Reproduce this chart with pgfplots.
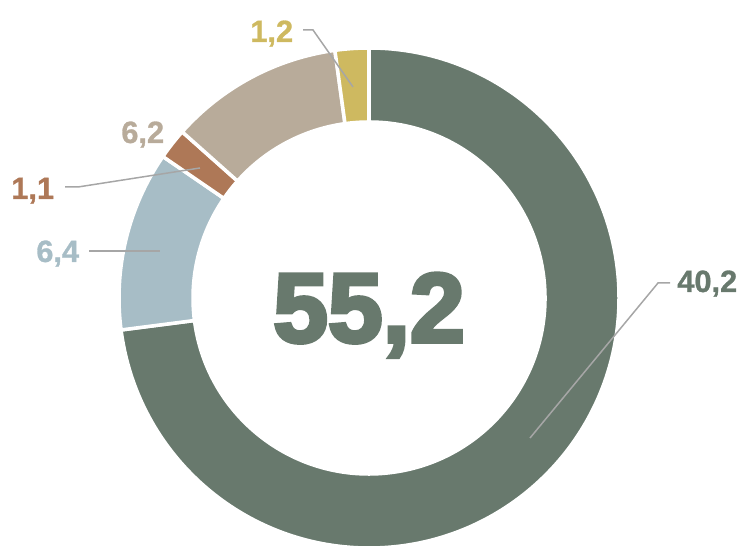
\documentclass[border=0pt]{standalone}
\usepackage{pgfplots}
\usepackage{pgfplotstable}
\pgfplotsset{compat=1.18}
\usepackage{fontspec}
\setmainfont{Liberation Sans}
\newfontfamily\heavyfont[BoldFeatures={FakeBold=4}]{Liberation Sans}
\newfontfamily\labelfont[BoldFeatures={FakeBold=1}]{Liberation Sans}

\definecolor{cDark}{HTML}{68796D}
\definecolor{cBlue}{HTML}{A7BDC6}
\definecolor{cBrown}{HTML}{AE7857}
\definecolor{cBeige}{HTML}{B8AB9A}
\definecolor{cYellow}{HTML}{CEB960}
\definecolor{cLine}{HTML}{A6A6A6}

\pgfplotstableread{
value color
40.2 cDark
6.4 cBlue
1.1 cBrown
6.2 cBeige
1.2 cYellow
}\donutdata

\begin{document}
\begin{tikzpicture}
\pgfplotstablegetrowsof{\donutdata}
\pgfmathtruncatemacro\nrows{\pgfplotsretval-1}
\gdef\total{0}
\foreach \i in {0,...,\nrows}{%
  \pgfplotstablegetelem{\i}{value}\of\donutdata
  \pgfmathsetmacro\tmpsum{\total+\pgfplotsretval}%
  \global\let\total\tmpsum
}
\def\cx{369}\def\cy{248}
\def\Ro{250}\def\Ri{176}
\begin{axis}[name=donut,
  x=0.02cm, y=0.02cm,
  xmin=0, xmax=743, ymin=0, ymax=546,
  enlargelimits=false, hide axis, clip=true]
\def\startang{90}
\pgfplotsforeachungrouped \i in {0,...,\nrows}{%
  \pgfplotstablegetelem{\i}{value}\of\donutdata \let\segval\pgfplotsretval
  \pgfplotstablegetelem{\i}{color}\of\donutdata \let\segcol\pgfplotsretval
  \pgfmathsetmacro\endang{\startang-\segval/\total*360}%
  \pgfmathsetmacro\xa{\cx+\Ro*cos(\startang)}%
  \pgfmathsetmacro\ya{\cy+\Ro*sin(\startang)}%
  \pgfmathsetmacro\xb{\cx+\Ri*cos(\endang)}%
  \pgfmathsetmacro\yb{\cy+\Ri*sin(\endang)}%
  \pgfmathsetmacro\Rocm{\Ro*0.02}%
  \pgfmathsetmacro\Ricm{\Ri*0.02}%
  \edef\cmd{\noexpand\fill[\segcol, draw=white, line width=2pt]
    (axis cs:\xa,\ya) arc[start angle=\startang, end angle=\endang, radius=\Rocm cm]
    -- (axis cs:\xb,\yb) arc[start angle=\endang, end angle=\startang, radius=\Ricm cm] -- cycle;}%
  \cmd
  \global\let\startang\endang
}
% leader lines
\addplot[cLine, line width=0.85pt, mark=none] coordinates {(530,108) (658,263) (670,263)};
\addplot[cLine, line width=0.85pt, mark=none] coordinates {(303,516) (313,516) (353,459)};
\addplot[cLine, line width=0.85pt, mark=none] coordinates {(65,359) (78,359) (200,378)};
\addplot[cLine, line width=0.85pt, mark=none] coordinates {(89,295) (160,295)};
% labels
\node[anchor=base west, inner sep=0pt, text=cDark, font=\labelfont\fontsize{17.5}{20}\selectfont\bfseries] at (axis cs:677,254) {40,2};
\node[anchor=base west, inner sep=0pt, text=cYellow, font=\labelfont\fontsize{17.5}{20}\selectfont\bfseries] at (axis cs:250,504) {1,2};
\node[anchor=base west, inner sep=0pt, text=cBeige, font=\labelfont\fontsize{17.5}{20}\selectfont\bfseries] at (axis cs:121,403) {6,2};
\node[anchor=base west, inner sep=0pt, text=cBrown, font=\labelfont\fontsize{17.5}{20}\selectfont\bfseries] at (axis cs:11,347) {1,1};
\node[anchor=base west, inner sep=0pt, text=cBlue, font=\labelfont\fontsize{17.5}{20}\selectfont\bfseries] at (axis cs:36,284) {6,4};
\node[anchor=base, inner sep=0pt, text=cDark, font=\heavyfont\fontsize{56}{60}\selectfont\bfseries] at (axis cs:369,204) {55,2};
\end{axis}
\pgfresetboundingbox
\useasboundingbox (donut.south west) rectangle (donut.north east);
\end{tikzpicture}
\end{document}
